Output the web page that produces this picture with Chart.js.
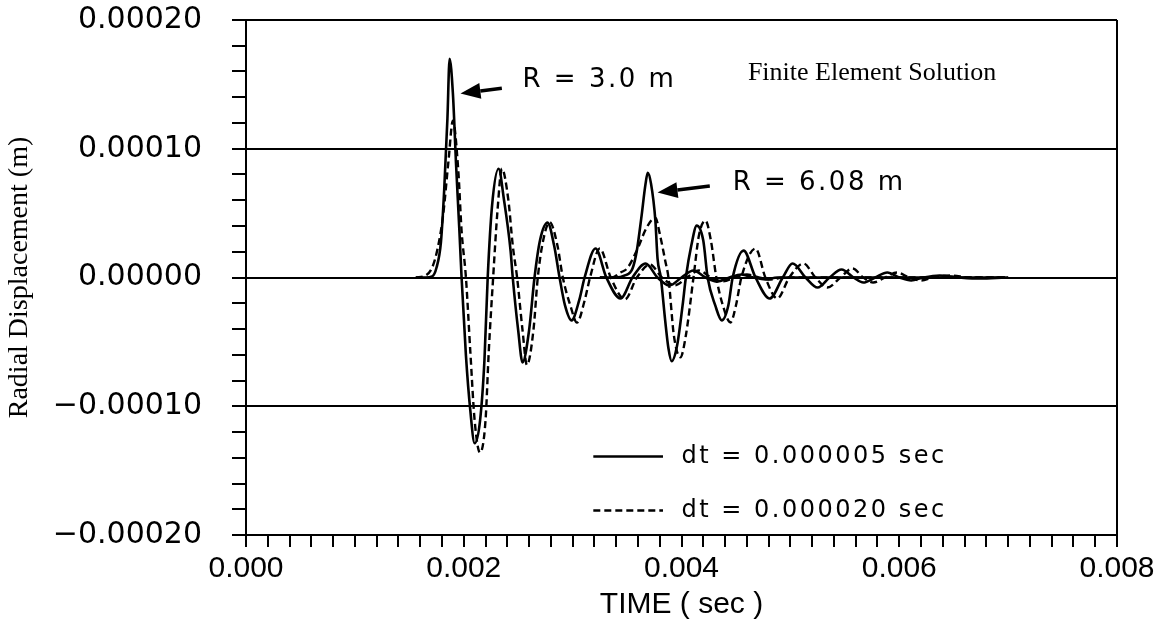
<!DOCTYPE html>
<html>
<head>
<meta charset="utf-8">
<title>Radial Displacement - Finite Element Solution</title>
<script src="https://cdn.jsdelivr.net/npm/chart.js@4.4.1/dist/chart.umd.min.js"></script>
<style>
  html, body { margin: 0; padding: 0; background: #fff; }
  #wrap { width: 1160px; height: 631px; }
</style>
</head>
<body>
<div id="wrap"><canvas id="chart" width="1160" height="631"></canvas></div>
<script>
// Time (sec) and radial displacement (m)

// R = 3.0 m, dt = 0.000005 sec
const tR3Fine = [
    0.00156, 0.00165, 0.00171, 0.00175, 0.00179, 0.00182, 0.00185, 0.00187, 0.00190, 0.00193, 0.00196, 0.00198,
    0.00202, 0.00206, 0.00210, 0.00215, 0.00219, 0.00222,
    0.00226, 0.00232, 0.00237, 0.00243, 0.00245,
    0.00250, 0.00254, 0.00260, 0.00265,
    0.00270, 0.00277, 0.00283, 0.00288,
    0.00293, 0.00299, 0.00306, 0.00311,
    0.00321, 0.00331, 0.00344, 0.00355, 0.00367, 0.00378, 0.00389, 0.00400,
    0.00411, 0.00422, 0.00433, 0.00444, 0.00455, 0.00466, 0.00477, 0.00488,
    0.00600, 0.00700
];
const uR3Fine = [
    0, 0, 0.0000008, 0.0000078, 0.0000271, 0.0000674, 0.0001233, 0.0001698, 0.0001434, 0.0000868, 0.0000364, 0,
    -0.0000605, -0.0001031, -0.0001287, -0.0001109, -0.0000643, 0,
    0.0000558, 0.0000845, 0.0000600, 0.0000209, 0,
    -0.0000411, -0.0000659, -0.0000411, 0,
    0.0000287, 0.0000426, 0.0000248, 0,
    -0.0000217, -0.0000333, -0.0000178, 0,
    0.0000225, 0, -0.0000163, 0, 0.0000109, 0, -0.0000062, 0,
    0.0000054, 0, -0.0000031, 0, 0.0000023, 0, -0.0000015, 0,
    0, 0
];

// R = 3.0 m, dt = 0.000020 sec
const tR3Coarse = [
    0.00156, 0.00165, 0.00171, 0.00176, 0.00181, 0.00186, 0.00190, 0.00195, 0.00198, 0.00202,
    0.00206, 0.00210, 0.00215, 0.00220, 0.00223, 0.00227,
    0.00231, 0.00235, 0.00241, 0.00245, 0.00249,
    0.00254, 0.00258, 0.00264, 0.00268,
    0.00273, 0.00279, 0.00286, 0.00291,
    0.00298, 0.00304, 0.00311, 0.00316,
    0.00325, 0.00335, 0.00348, 0.00359, 0.00371, 0.00382, 0.00394, 0.00405,
    0.00416, 0.00427, 0.00438, 0.00449, 0.00460, 0.00471, 0.00482, 0.00493,
    0.00600, 0.00700
];
const uR3Coarse = [
    0, 0.0000016, 0.0000078, 0.0000225, 0.0000480, 0.0000907, 0.0001217, 0.0000829, 0.0000364, 0,
    -0.0000570, -0.0001110, -0.0001360, -0.0001110, -0.0000570, 0,
    0.0000520, 0.0000845, 0.0000600, 0.0000250, 0,
    -0.0000410, -0.0000680, -0.0000410, 0,
    0.0000290, 0.0000430, 0.0000250, 0,
    -0.0000220, -0.0000350, -0.0000180, 0,
    0.0000225, 0, -0.0000170, 0, 0.0000100, 0, -0.0000060, 0,
    0.0000054, 0, -0.0000030, 0, 0.0000023, 0, -0.0000015, 0,
    0, 0
];

// R = 6.08 m, dt = 0.000005 sec
const tR6Fine = [
    0.00325, 0.00339, 0.00348, 0.00355, 0.00359, 0.00363, 0.00367, 0.00369, 0.00372, 0.00376, 0.00378, 0.00381,
    0.00385, 0.00388, 0.00391, 0.00396, 0.00401, 0.00404,
    0.00409, 0.00414, 0.00420, 0.00424,
    0.00431, 0.00437, 0.00443, 0.00447,
    0.00457, 0.00468, 0.00481, 0.00493, 0.00502, 0.00514, 0.00525, 0.00536, 0.00547, 0.00558,
    0.00567, 0.00578, 0.00589, 0.00600, 0.00611, 0.00622, 0.00637, 0.00656, 0.00674, 0.00697
];
const uR6Fine = [
    0, 0, 0.0000016, 0.0000070, 0.0000210, 0.0000457, 0.0000729, 0.0000814, 0.0000729, 0.0000442, 0.0000147, 0,
    -0.0000333, -0.0000550, -0.0000651, -0.0000527, -0.0000217, 0,
    0.0000248, 0.0000403, 0.0000287, 0,
    -0.0000217, -0.0000333, -0.0000217, 0,
    0.0000209, 0, -0.0000163, 0, 0.0000109, 0, -0.0000078, 0, 0.0000062, 0,
    -0.0000039, 0, 0.0000039, 0, -0.0000023, 0, 0.0000016, 0, -0.0000008, 0
];

// R = 6.08 m, dt = 0.000020 sec
const tR6Coarse = [
    0.00325, 0.00336, 0.00344, 0.00350, 0.00359, 0.00368, 0.00376, 0.00380, 0.00385, 0.00388,
    0.00393, 0.00399, 0.00404, 0.00411,
    0.00416, 0.00422, 0.00427, 0.00432,
    0.00438, 0.00445, 0.00450, 0.00455,
    0.00468, 0.00477, 0.00488, 0.00499, 0.00512, 0.00523, 0.00534, 0.00546, 0.00557, 0.00567,
    0.00576, 0.00587, 0.00598, 0.00609, 0.00620, 0.00631, 0.00647, 0.00665, 0.00697
];
const uR6Coarse = [
    0, 0, 0.0000039, 0.0000070, 0.0000210, 0.0000388, 0.0000465, 0.0000341, 0.0000132, 0,
    -0.0000450, -0.0000620, -0.0000450, 0,
    0.0000326, 0.0000442, 0.0000287, 0,
    -0.0000217, -0.0000349, -0.0000217, 0,
    0.0000225, 0, -0.0000163, 0, 0.0000109, 0, -0.0000078, 0, 0.0000070, 0,
    -0.0000039, 0, 0.0000039, 0, -0.0000023, 0, 0.0000016, 0, 0
];

const legendLabels = ['dt = 0.000005 sec', 'dt = 0.000020 sec'];
const plotTitle = 'Finite Element Solution';
const xTitle = 'TIME ( sec )';
const yTitle = 'Radial Displacement (m)';

// labels with arrows, in data units
const notes = [
    { text: 'R = 3.0 m', t: 0.00254, u: 0.000153, from: [0.00235, 0.000147], to: [0.00197, 0.000143] },
    { text: 'R = 6.08 m', t: 0.00447, u: 0.000073, from: [0.00426, 0.000071], to: [0.00378, 0.000066] }
];

const toPoints = (ts, us) => ts.map((t, i) => ({ x: t, y: us[i] }));

const solid = { borderColor: '#000', borderWidth: 2.6, borderDash: [] };
const dashed = { borderColor: '#000', borderWidth: 2.4, borderDash: [7, 4] };

const datasets = [
    { label: legendLabels[0], data: toPoints(tR3Fine, uR3Fine), ...solid },
    { label: legendLabels[1], data: toPoints(tR3Coarse, uR3Coarse), ...dashed },
    { label: legendLabels[0], data: toPoints(tR6Fine, uR6Fine), ...solid },
    { label: legendLabels[1], data: toPoints(tR6Coarse, uR6Coarse), ...dashed }
].map(d => ({ ...d, pointRadius: 0, fill: false, cubicInterpolationMode: 'monotone' }));

function drawArrow(ctx, x0, y0, x1, y1) {
    const ang = Math.atan2(y1 - y0, x1 - x0);
    const len = 20, half = 8;
    const bx = x1 - len * Math.cos(ang), by = y1 - len * Math.sin(ang);
    ctx.lineWidth = 3.5;
    ctx.beginPath();
    ctx.moveTo(x0, y0);
    ctx.lineTo(bx, by);
    ctx.stroke();
    ctx.beginPath();
    ctx.moveTo(x1, y1);
    ctx.lineTo(bx + half * Math.sin(ang), by - half * Math.cos(ang));
    ctx.lineTo(bx - half * Math.sin(ang), by + half * Math.cos(ang));
    ctx.closePath();
    ctx.fill();
}

const annotate = {
    id: 'annotate',
    afterDatasetsDraw(chart) {
        const { ctx, scales: { x, y } } = chart;
        ctx.save();
        ctx.fillStyle = '#000';
        ctx.strokeStyle = '#000';
        ctx.textBaseline = 'middle';

        ctx.font = '26px "DejaVu Sans"';
        ctx.letterSpacing = '2.5px';
        notes.forEach(n => {
            ctx.fillText(n.text, x.getPixelForValue(n.t), y.getPixelForValue(n.u));
            drawArrow(ctx,
                x.getPixelForValue(n.from[0]), y.getPixelForValue(n.from[1]),
                x.getPixelForValue(n.to[0]), y.getPixelForValue(n.to[1]));
        });

        ctx.letterSpacing = '0px';
        ctx.font = '26px "Liberation Serif"';
        ctx.fillText(plotTitle, x.getPixelForValue(0.00461), y.getPixelForValue(0.000159));

        // legend, bottom right inside the frame
        const rows = [-0.000139, -0.000181];
        ctx.font = '24px "DejaVu Sans"';
        ctx.letterSpacing = '2.5px';
        rows.forEach((u, i) => {
            const ds = chart.data.datasets[i];
            const py = y.getPixelForValue(u);
            ctx.save();
            ctx.lineWidth = ds.borderWidth;
            ctx.setLineDash(ds.borderDash);
            ctx.beginPath();
            ctx.moveTo(x.getPixelForValue(0.00319), py);
            ctx.lineTo(x.getPixelForValue(0.00383), py);
            ctx.stroke();
            ctx.restore();
            ctx.fillText(legendLabels[i], x.getPixelForValue(0.00400), py);
        });
        ctx.restore();
    }
};

const yFormat = v => {
    const k = Math.round(v / 0.00002);
    if (k % 5 !== 0) return '';
    const val = k * 0.00002;
    return (val < 0 ? '\u2212' : '') + Math.abs(val).toFixed(5);
};
const xFormat = v => {
    const k = Math.round(v / 0.0002);
    return k % 10 === 0 ? (k * 0.0002).toFixed(3) : '';
};

new Chart(document.getElementById('chart'), {
    type: 'line',
    data: { datasets },
    plugins: [annotate],
    options: {
        responsive: false,
        animation: false,
        devicePixelRatio: 1,
        layout: { padding: { left: 0, right: 43, top: 20, bottom: 0 } },
        plugins: {
            legend: { display: false },
            tooltip: { enabled: false }
        },
        scales: {
            x: {
                type: 'linear',
                min: 0,
                max: 0.008,
                afterFit: s => { s.height = 96; },
                border: { display: true, color: '#000', width: 2 },
                grid: {
                    color: c => (c.tick && (Math.abs(c.tick.value) < 1e-9 || Math.abs(c.tick.value - 0.008) < 1e-9)) ? '#000' : 'rgba(0,0,0,0)',
                    tickColor: '#000',
                    lineWidth: 2,
                    tickLength: 12
                },
                ticks: {
                    stepSize: 0.0002,
                    autoSkip: false,
                    maxRotation: 0,
                    color: '#000',
                    padding: 4,
                    font: { family: '"Liberation Sans Narrow", "Liberation Sans", Arial', size: 30 },
                    callback: xFormat
                },
                title: {
                    display: true,
                    text: xTitle,
                    color: '#000',
                    font: { family: '"Liberation Sans Narrow", "Liberation Sans", Arial', size: 30 },
                    padding: { top: 0, bottom: 8 }
                }
            },
            y: {
                min: -0.0002,
                max: 0.0002,
                afterFit: s => { s.width = 246; s.paddingTop = 0; s.paddingBottom = 0; },
                border: { display: true, color: '#000', width: 2 },
                grid: {
                    color: c => (c.tick && Math.round(c.tick.value / 0.00002) % 5 === 0) ? '#000' : 'rgba(0,0,0,0)',
                    tickColor: '#000',
                    lineWidth: 2,
                    tickLength: 14
                },
                ticks: {
                    stepSize: 0.00002,
                    autoSkip: false,
                    color: '#000',
                    padding: 30,
                    font: { family: '"DejaVu Sans"', size: 30, lineHeight: 1 },
                    callback: yFormat
                },
                title: {
                    display: true,
                    text: yTitle,
                    color: '#000',
                    font: { family: '"Liberation Serif", "Times New Roman"', size: 28 },
                    padding: { top: 3, bottom: 0 }
                }
            }
        }
    }
});
</script>
</body>
</html>
